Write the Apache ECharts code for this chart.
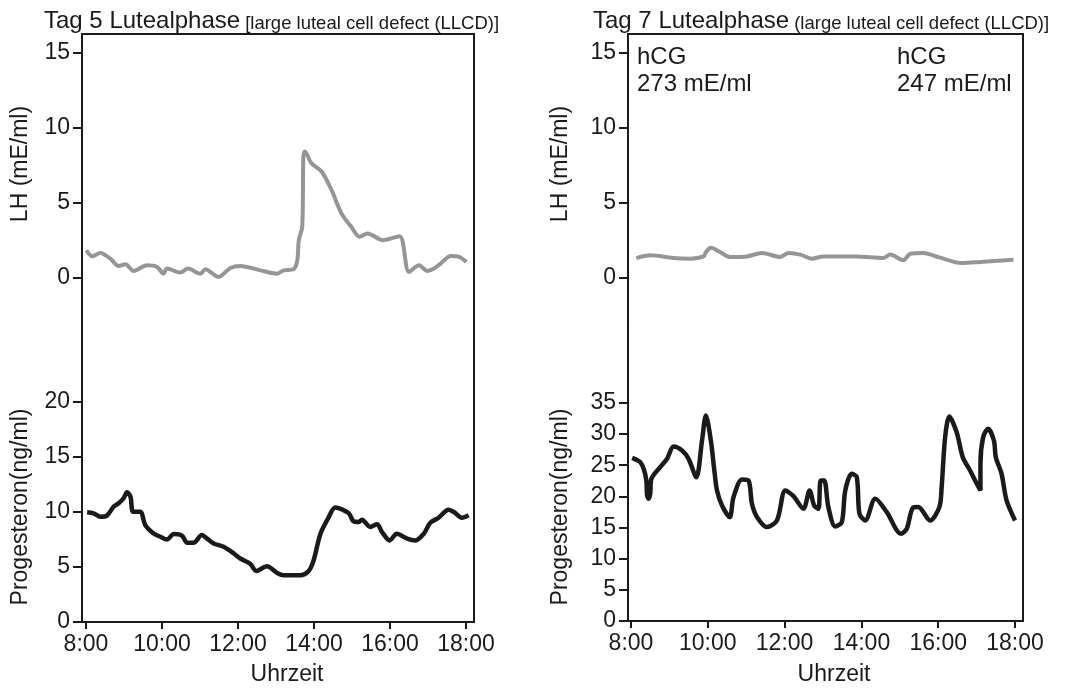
<!DOCTYPE html>
<html>
<head>
<meta charset="utf-8">
<title>LH / Progesteron</title>
<script src="https://cdn.jsdelivr.net/npm/echarts@6/dist/echarts.min.js"></script>
</head>
<body style="margin:0">
<div id="main" style="width:1076px;height:691px;"></div>
<script type="text/javascript">
// tick labels
var hourTicks = [8, 10, 12, 14, 16, 18];
var lhTicks = [0, 5, 10, 15];
var progTicksLeft = [0, 5, 10, 15, 20];
var progTicksRight = [0, 5, 10, 15, 20, 25, 30, 35];

// Tag 5 - LH (mE/ml)
var lhLeftHours = [8.01, 8.16, 8.38, 8.64, 8.86, 9.04, 9.25, 9.61, 9.87, 10.04, 10.13, 10.48, 10.68, 11.01, 11.14, 11.49, 11.80, 12.06, 12.59, 13.03, 13.20, 13.46, 13.56, 13.60, 13.69, 13.72, 13.76, 13.93, 14.2, 14.46, 14.72, 14.98, 15.2, 15.41, 15.81, 16.25, 16.5, 16.76, 16.98, 17.16, 17.33, 17.6, 17.82, 18.01];
var lhLeftValues = [1.85, 1.45, 1.67, 1.29, 0.80, 0.92, 0.47, 0.85, 0.74, 0.29, 0.63, 0.36, 0.63, 0.29, 0.58, 0.07, 0.67, 0.80, 0.51, 0.29, 0.51, 0.58, 1.18, 2.52, 3.42, 8.1, 8.44, 7.66, 7.1, 5.87, 4.31, 3.42, 2.75, 2.97, 2.52, 2.79, 0.40, 0.85, 0.47, 0.63, 0.96, 1.47, 1.41, 1.07];

// Tag 5 - Progesteron (ng/ml)
var progLeftHours = [8.03, 8.2, 8.38, 8.55, 8.73, 8.86, 8.99, 9.08, 9.17, 9.24, 9.43, 9.56, 9.78, 9.96, 10.13, 10.31, 10.53, 10.66, 10.83, 11.05, 11.18, 11.36, 11.62, 11.89, 12.06, 12.32, 12.48, 12.76, 13.03, 13.2, 13.64, 13.86, 13.99, 14.17, 14.39, 14.56, 14.91, 15.03, 15.18, 15.26, 15.48, 15.66, 15.79, 15.99, 16.18, 16.45, 16.67, 16.89, 17.06, 17.28, 17.54, 17.68, 17.89, 18.07];
var progLeftValues = [9.97, 9.88, 9.57, 9.67, 10.49, 10.79, 11.25, 11.79, 11.4, 10.03, 10.03, 8.81, 8.05, 7.75, 7.5, 7.99, 7.84, 7.2, 7.2, 7.9, 7.6, 7.14, 6.84, 6.23, 5.77, 5.3, 4.64, 5.06, 4.46, 4.25, 4.25, 4.64, 5.6, 8.03, 9.55, 10.4, 9.91, 9.18, 9.09, 9.3, 8.64, 8.88, 8.18, 7.42, 8.03, 7.58, 7.42, 8.03, 9.03, 9.48, 10.21, 10.0, 9.48, 9.7];

// Tag 7 - LH (mE/ml)
var lhRightHours = [8.14, 8.5, 9.11, 9.54, 9.89, 9.95, 10.08, 10.32, 10.58, 11.02, 11.41, 11.89, 12.1, 12.41, 12.71, 13.01, 13.88, 14.57, 14.75, 15.09, 15.27, 15.61, 16.05, 16.61, 17.09, 17.96];
var lhRightValues = [1.33, 1.51, 1.33, 1.29, 1.44, 1.73, 2.02, 1.73, 1.4, 1.44, 1.67, 1.4, 1.67, 1.56, 1.29, 1.44, 1.44, 1.33, 1.56, 1.18, 1.62, 1.67, 1.36, 1.0, 1.07, 1.22];

// Tag 7 - Progesteron (ng/ml)
var progRightHours = [8.03, 8.24, 8.33, 8.4, 8.42, 8.46, 8.5, 8.53, 8.76, 8.94, 9.11, 9.33, 9.5, 9.7, 9.85, 9.95, 10.08, 10.17, 10.24, 10.37, 10.57, 10.67, 10.89, 11.06, 11.15, 11.28, 11.54, 11.8, 12.02, 12.23, 12.49, 12.65, 12.77, 12.88, 12.94, 13.03, 13.14, 13.32, 13.49, 13.58, 13.75, 13.88, 13.95, 14.1, 14.36, 14.66, 15.03, 15.18, 15.34, 15.48, 15.79, 16.03, 16.09, 16.18, 16.29, 16.48, 16.64, 16.83, 16.96, 17.1, 17.1, 17.17, 17.3, 17.45, 17.5, 17.65, 17.78, 18.0];
var progRightValues = [26.19, 25.49, 24.43, 22.55, 20.15, 19.61, 20.42, 22.82, 24.69, 26.03, 28.01, 27.37, 26.03, 23.09, 28.97, 32.98, 28.97, 24.16, 20.95, 18.55, 16.68, 19.88, 22.71, 22.55, 18.81, 16.68, 15.07, 16.14, 20.95, 20.04, 18.01, 20.95, 18.55, 18.01, 22.55, 22.55, 18.28, 15.18, 15.87, 20.95, 23.62, 23.09, 17.21, 16.14, 19.61, 17.48, 14.0, 14.8, 18.17, 18.28, 16.14, 18.28, 21.49, 29.5, 32.82, 30.3, 26.3, 24.16, 22.55, 20.95, 25.23, 29.5, 30.84, 28.97, 26.3, 23.62, 19.35, 16.14];

var FONT = '"Liberation Sans", Arial, sans-serif';
var INK = '#1a1a1a';
var GREY = '#959595';

function pairs(xs, ys) {
    return xs.map(function (x, i) { return [x, ys[i]]; });
}

// visible y axis with ticks only at the given values
function yAxisOf(grid, min, max, ticks) {
    return {
        type: 'value', gridIndex: grid, min: min, max: max,
        axisLine: { show: true, onZero: false, lineStyle: { color: INK, width: 2 } },
        axisTick: { show: true, length: 9, customValues: ticks, lineStyle: { color: INK, width: 2 } },
        axisLabel: { customValues: ticks, margin: 12, color: INK, fontSize: 23, fontFamily: FONT },
        splitLine: { show: false }
    };
}
function hiddenAxis(grid, min, max) {
    return { type: 'value', gridIndex: grid, min: min, max: max, show: false, splitLine: { show: false } };
}
function xAxisOf(grid, min, max) {
    return {
        type: 'value', gridIndex: grid, min: min, max: max,
        axisLine: { show: true, onZero: false, lineStyle: { color: INK, width: 2 } },
        axisTick: { show: true, length: 7, customValues: hourTicks, lineStyle: { color: INK, width: 2 } },
        axisLabel: {
            customValues: hourTicks, margin: 11, color: INK, fontSize: 23, fontFamily: FONT,
            formatter: function (v) { return v + ':00'; }
        },
        splitLine: { show: false }
    };
}

var myChart = echarts.init(document.getElementById('main'));

var xl = [7.895, 18.21];
var xr = [7.922, 18.208];

var titleRich = {
    a: { fontSize: 24, fontFamily: FONT, fontWeight: 'normal', color: INK, verticalAlign: 'bottom', lineHeight: 28 },
    b: { fontSize: 18.5, fontFamily: FONT, fontWeight: 'normal', color: INK, verticalAlign: 'bottom', lineHeight: 27 }
};

var option = {
    backgroundColor: '#fff',
    animation: false,
    title: [
        {
            left: 39, top: 0,
            text: '{a|Tag 5 Lutealphase} {b|[large luteal cell defect (LLCD)]}',
            textStyle: { fontWeight: 'normal', rich: titleRich }
        },
        {
            left: 588, top: 0,
            text: '{a|Tag 7 Lutealphase} {b|(large luteal cell defect (LLCD)]}',
            textStyle: { fontWeight: 'normal', rich: titleRich }
        }
    ],
    grid: [
        { left: 82, top: 34, width: 392, height: 294 },
        { left: 82, top: 328, width: 392, height: 294 },
        { left: 82, top: 34, width: 392, height: 588, show: true, borderColor: INK, borderWidth: 2, backgroundColor: 'transparent' },
        { left: 628, top: 34, width: 395, height: 294 },
        { left: 628, top: 328, width: 395, height: 293 },
        { left: 628, top: 34, width: 395, height: 587, show: true, borderColor: INK, borderWidth: 2, backgroundColor: 'transparent' }
    ],
    xAxis: [
        hiddenAxis(0, xl[0], xl[1]),
        xAxisOf(1, xl[0], xl[1]),
        hiddenAxis(2, 0, 1),
        hiddenAxis(3, xr[0], xr[1]),
        xAxisOf(4, xr[0], xr[1]),
        hiddenAxis(5, 0, 1)
    ],
    yAxis: [
        yAxisOf(0, -3.333, 16.267, lhTicks),
        yAxisOf(1, 0, 26.727, progTicksLeft),
        hiddenAxis(2, 0, 1),
        yAxisOf(3, -3.333, 16.267, lhTicks),
        yAxisOf(4, 0, 47.03, progTicksRight),
        hiddenAxis(5, 0, 1)
    ],
    series: [
        { type: 'line', xAxisIndex: 0, yAxisIndex: 0, data: pairs(lhLeftHours, lhLeftValues), showSymbol: false, smooth: 0.3, lineStyle: { color: GREY, width: 4 } },
        { type: 'line', xAxisIndex: 1, yAxisIndex: 1, data: pairs(progLeftHours, progLeftValues), showSymbol: false, smooth: 0.3, lineStyle: { color: INK, width: 4.5 } },
        { type: 'line', xAxisIndex: 3, yAxisIndex: 3, data: pairs(lhRightHours, lhRightValues), showSymbol: false, smooth: 0.3, lineStyle: { color: GREY, width: 4 } },
        { type: 'line', xAxisIndex: 4, yAxisIndex: 4, data: pairs(progRightHours, progRightValues), showSymbol: false, smooth: 0.3, lineStyle: { color: INK, width: 4.5 } }
    ],
    graphic: [
        { type: 'text', x: 21, y: 164, rotation: Math.PI / 2, style: { text: 'LH (mE/ml)', x: 0, y: 0, textAlign: 'center', textVerticalAlign: 'middle', font: '23px ' + FONT, fill: INK } },
        { type: 'text', x: 21, y: 507, rotation: Math.PI / 2, style: { text: 'Progesteron(ng/ml)', x: 0, y: 0, textAlign: 'center', textVerticalAlign: 'middle', font: '23px ' + FONT, fill: INK } },
        { type: 'text', x: 561, y: 164, rotation: Math.PI / 2, style: { text: 'LH (mE/ml)', x: 0, y: 0, textAlign: 'center', textVerticalAlign: 'middle', font: '23px ' + FONT, fill: INK } },
        { type: 'text', x: 561, y: 507, rotation: Math.PI / 2, style: { text: 'Progesteron(ng/ml)', x: 0, y: 0, textAlign: 'center', textVerticalAlign: 'middle', font: '23px ' + FONT, fill: INK } },
        { type: 'text', x: 287, y: 675, style: { text: 'Uhrzeit', textAlign: 'center', textVerticalAlign: 'middle', font: '23px ' + FONT, fill: INK } },
        { type: 'text', x: 834, y: 675, style: { text: 'Uhrzeit', textAlign: 'center', textVerticalAlign: 'middle', font: '23px ' + FONT, fill: INK } },
        { type: 'text', x: 637, y: 57, style: { text: 'hCG', textAlign: 'left', textVerticalAlign: 'middle', font: '24px ' + FONT, fill: INK } },
        { type: 'text', x: 637, y: 84, style: { text: '273 mE/ml', textAlign: 'left', textVerticalAlign: 'middle', font: '24px ' + FONT, fill: INK } },
        { type: 'text', x: 897, y: 57, style: { text: 'hCG', textAlign: 'left', textVerticalAlign: 'middle', font: '24px ' + FONT, fill: INK } },
        { type: 'text', x: 897, y: 84, style: { text: '247 mE/ml', textAlign: 'left', textVerticalAlign: 'middle', font: '24px ' + FONT, fill: INK } }
    ]
};

myChart.setOption(option);
</script>
</body>
</html>
